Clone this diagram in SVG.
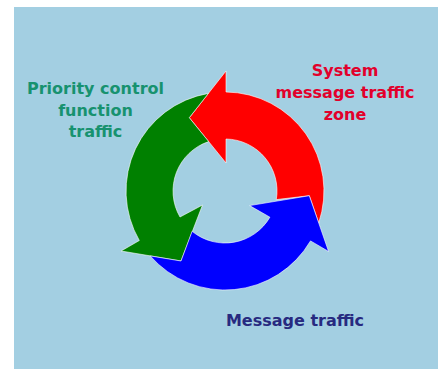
<svg xmlns="http://www.w3.org/2000/svg" width="441" height="369" viewBox="0 0 441 369">
  <style>
    .lbl { font-family: "DejaVu Sans", "Verdana", sans-serif; font-weight: bold; font-size: 16px; text-anchor: middle; }
    .arrow { stroke: #ffffff; stroke-width: 0.6; stroke-linejoin: miter; }
  </style>
  <rect x="0" y="0" width="441" height="369" fill="#ffffff"/>
  <rect id="background" x="14" y="7" width="424" height="362" fill="#a3cfe2"/>
  <g id="connectors">
    <path id="arrow-red" class="arrow" fill="#ff0000" d="M318.7,222.9 A99,99 0 0 0 226,92 L226,71 L189.3,117.7 L226,163 L226,139 A52,52 0 0 1 276.3,199.6 L309.3,195.7 Z"/>
    <path id="arrow-green" class="arrow" fill="#008000" d="M208.4,93.4 A99,99 0 0 0 139.3,240.5 L121.1,251 L181,261 L202.5,205 L180,217 A52,52 0 0 1 208.7,141.6 L189.3,117.7 Z"/>
    <path id="arrow-blue" class="arrow" fill="#0000ff" d="M150.2,255.9 A99,99 0 0 0 310.5,240.9 L328.6,251.5 L309.3,195.7 L249.6,205.6 L269.9,217.2 A52,52 0 0 1 192.1,231.3 L181,261 Z"/>
  </g>
  <g id="node-priority">
    <text class="lbl" fill="#17926f" x="95.5" y="93.5">Priority control</text>
    <text class="lbl" fill="#17926f" x="95.5" y="115.5">function</text>
    <text class="lbl" fill="#17926f" x="95.5" y="137">traffic</text>
  </g>
  <g id="node-system">
    <text class="lbl" fill="#e2002b" x="345" y="75.5">System</text>
    <text class="lbl" fill="#e2002b" x="345" y="97.5">message traffic</text>
    <text class="lbl" fill="#e2002b" x="345" y="119.5">zone</text>
  </g>
  <g id="node-message">
    <text class="lbl" fill="#272a80" x="295" y="325.5">Message traffic</text>
  </g>
</svg>
